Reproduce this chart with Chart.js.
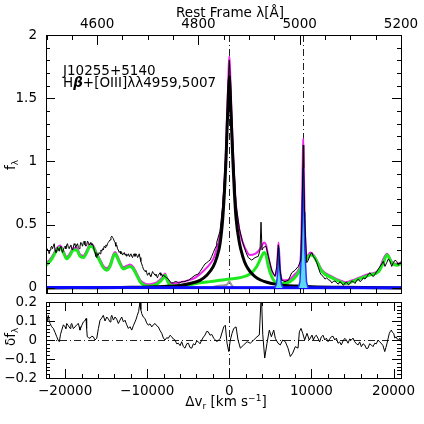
<!DOCTYPE html>
<html>
<head>
<meta charset="utf-8">
<script src="https://cdn.jsdelivr.net/npm/chart.js@4.4.1/dist/chart.umd.min.js"></script>
<style>
  html, body { margin: 0; padding: 0; background: #fff; }
  #wrap { position: relative; width: 424px; height: 424px; overflow: hidden; }
  canvas { position: absolute; left: 0; }
  #cTop { top: 0; }
  #cRes { top: 290px; }
</style>
</head>
<body>
<div id="wrap">
  <canvas id="cTop" width="424" height="300"></canvas>
  <canvas id="cRes" width="424" height="134"></canvas>
</div>
<script>
/* ── DATA (velocity in km/s, flux in relative units) ── */
// observed spectrum (thin black)
var obsV = [-22330,-22190,-22040,-21940,-21840,-21740,-21640,-21540,-21440,-21330,
  -21230,-21120,-21020,-20930,-20830,-20720,-20620,-20520,-20420,-20320,
  -20220,-20110,-20010,-19910,-19810,-19710,-19610,-19500,-19400,-19300,
  -19200,-19100,-19000,-18900,-18800,-18690,-18590,-18490,-18390,-18290,
  -18190,-18090,-17990,-17880,-17780,-17680,-17580,-17470,-17370,-17270,
  -17170,-17070,-16970,-16870,-16770,-16670,-16570,-16460,-16360,-16250,
  -16150,-16050,-15960,-15850,-15750,-15640,-15540,-15440,-15350,-15240,
  -15140,-15030,-14930,-14840,-14740,-14630,-14530,-14420,-14320,-14230,
  -14130,-14020,-13920,-13820,-13720,-13620,-13520,-13410,-13310,-13210,
  -13110,-13010,-12910,-12800,-12700,-12600,-12500,-12400,-12300,-12200,
  -12100,-11990,-11890,-11790,-11690,-11590,-11490,-11380,-11280,-11170,
  -11070,-10980,-10880,-10780,-10670,-10570,-10470,-10370,-10270,-10160,
  -10060,-9970,-9870,-9760,-9660,-9560,-9450,-9350,-9260,-9150,
  -9050,-8940,-8840,-8750,-8650,-8540,-8440,-8340,-8230,-8140,
  -8040,-7830,-7630,-7430,-7220,-7020,-6820,-6610,-6410,-6210,
  -6010,-5800,-5600,-5400,-5190,-4990,-4790,-4580,-4180,-3780,
  -3570,-3360,-3170,-2960,-2750,-2560,-2350,-2140,-1950,-1620,
  -1540,-1130,-800,-520,-400,-160,-70,0,120,210,
  450,820,1220,1630,2030,2310,2730,3130,3530,3740,
  3860,3980,4140,4470,4750,5160,5570,5770,5970,6180,
  6380,6780,7190,7600,8000,8400,8700,8820,8940,9010,
  9060,9180,9430,9620,9830,10040,10230,10440,10650,10850,
  11050,11250,11450,11650,11860,12060,12270,12470,12670,12870,
  13080,13280,13480,13690,13890,14090,14300,14500,14700,14900,
  15100,15310,15520,15720,15920,16120,16320,16530,16740,16940,
  17140,17340,17540,17750,17950,18150,18360,18560,18760,18960,
  19170,19370,19570,19780,19980,20190,20390,20590,20790,20910];
var obsF = [0.28,0.31,0.29,0.27,0.30,0.32,0.33,0.31,0.33,0.35,
  0.30,0.28,0.29,0.32,0.31,0.29,0.32,0.33,0.30,0.28,
  0.30,0.32,0.33,0.31,0.34,0.35,0.32,0.31,0.33,0.34,
  0.31,0.30,0.32,0.35,0.34,0.32,0.34,0.35,0.32,0.31,
  0.33,0.36,0.35,0.33,0.36,0.37,0.34,0.33,0.34,0.37,
  0.36,0.34,0.35,0.36,0.34,0.35,0.33,0.30,0.28,0.25,
  0.24,0.27,0.26,0.28,0.27,0.30,0.29,0.31,0.30,0.33,
  0.32,0.34,0.33,0.35,0.36,0.37,0.38,0.40,0.41,0.40,
  0.39,0.37,0.36,0.33,0.34,0.31,0.30,0.28,0.29,0.27,
  0.28,0.26,0.27,0.28,0.26,0.27,0.25,0.26,0.27,0.25,
  0.26,0.27,0.25,0.24,0.26,0.27,0.25,0.27,0.26,0.24,
  0.25,0.27,0.24,0.21,0.19,0.17,0.15,0.14,0.13,0.14,
  0.12,0.10,0.11,0.12,0.10,0.09,0.11,0.13,0.12,0.11,
  0.10,0.11,0.09,0.08,0.10,0.11,0.12,0.10,0.11,0.09,
  0.10,0.09,0.08,0.07,0.05,0.04,0.04,0.05,0.05,0.04,
  0.04,0.05,0.05,0.05,0.06,0.06,0.07,0.08,0.10,0.11,
  0.13,0.15,0.17,0.19,0.20,0.21,0.22,0.25,0.28,0.33,
  0.36,0.45,0.66,0.95,1.12,1.55,1.72,1.80,1.65,1.50,
  1.10,0.66,0.47,0.36,0.28,0.24,0.22,0.24,0.25,0.30,
  0.52,0.30,0.32,0.33,0.25,0.14,0.09,0.17,0.34,0.14,
  0.06,0.05,0.06,0.12,0.14,0.17,0.22,0.49,0.90,1.13,
  0.95,0.55,0.20,0.22,0.26,0.28,0.25,0.23,0.20,0.16,
  0.12,0.10,0.09,0.07,0.08,0.065,0.06,0.04,0.05,0.055,
  0.04,0.03,0.05,0.035,0.02,0.04,0.045,0.025,0.035,0.055,
  0.05,0.035,0.06,0.07,0.05,0.06,0.08,0.07,0.09,0.11,
  0.12,0.10,0.09,0.11,0.13,0.15,0.17,0.19,0.21,0.17,
  0.20,0.23,0.21,0.17,0.20,0.22,0.21,0.18,0.20,0.21];

// total model (magenta)
var modV = [-22330,-21840,-21440,-21020,-20620,-20220,-19810,-19400,-19000,-18590,
  -18190,-17780,-17370,-16970,-16570,-16150,-15750,-15350,-14930,-14530,
  -14130,-13920,-13720,-13310,-12910,-12500,-12100,-11690,-11280,-10880,
  -10470,-10060,-9660,-9260,-8840,-8440,-8040,-7830,-7630,-7220,
  -6820,-6010,-4990,-4180,-3570,-2750,-1950,-1540,-1130,-800,
  -520,-400,-280,-160,-70,0,70,160,280,450,
  620,820,1220,1630,2030,2520,3130,3530,3940,4230,
  4470,4750,5160,5560,5810,5990,6180,6380,6780,7390,
  8000,8400,8700,8820,8940,9000,9060,9180,9300,9430,
  9870,10280,10650,11290,12510,13480,14130,15350,16980,18200,
  18760,19210,19780,20390,20910];
var modF = [0.195,0.225,0.265,0.315,0.335,0.295,0.245,0.275,0.315,0.315,
  0.265,0.255,0.295,0.345,0.335,0.275,0.225,0.175,0.155,0.185,
  0.265,0.285,0.265,0.205,0.165,0.175,0.185,0.165,0.115,0.065,
  0.04,0.03,0.03,0.035,0.045,0.065,0.095,0.115,0.085,0.04,
  0.035,0.045,0.06,0.08,0.11,0.16,0.23,0.31,0.42,0.62,
  0.93,1.10,1.35,1.58,1.76,1.83,1.76,1.58,1.36,1.08,
  0.85,0.65,0.46,0.36,0.30,0.26,0.27,0.29,0.33,0.36,
  0.34,0.25,0.14,0.10,0.15,0.36,0.15,0.07,0.06,0.07,
  0.11,0.14,0.25,0.55,1.00,1.18,1.00,0.55,0.30,0.25,
  0.28,0.26,0.22,0.14,0.09,0.06,0.045,0.07,0.11,0.14,
  0.23,0.27,0.21,0.19,0.20];

// FeII template (green)
var feV = [-22330,-21840,-21440,-21020,-20620,-20220,-19810,-19400,-19000,-18590,
  -18190,-17780,-17370,-16970,-16570,-16150,-15750,-15350,-14930,-14530,
  -14130,-13920,-13720,-13310,-12910,-12500,-12100,-11690,-11280,-10880,
  -10470,-10060,-9660,-9260,-8840,-8440,-8040,-7830,-7630,-7220,
  -6820,-6010,-4990,-3570,-2350,-1130,0,1220,2520,3340,
  3940,4230,4470,4750,5160,5770,6580,7390,8210,8820,
  9430,9870,10280,10650,11290,12510,13480,14130,15350,16980,
  18200,18760,19210,19780,20390,20910];
var feF = [0.18,0.21,0.25,0.30,0.32,0.28,0.23,0.26,0.30,0.30,
  0.25,0.24,0.28,0.33,0.32,0.26,0.21,0.16,0.14,0.17,
  0.25,0.27,0.25,0.19,0.15,0.16,0.17,0.15,0.10,0.05,
  0.025,0.015,0.015,0.02,0.03,0.05,0.08,0.10,0.07,0.02,
  0.015,0.02,0.025,0.04,0.05,0.06,0.07,0.08,0.11,0.17,
  0.25,0.28,0.26,0.17,0.09,0.04,0.035,0.05,0.10,0.17,
  0.23,0.26,0.25,0.21,0.13,0.08,0.05,0.035,0.06,0.10,
  0.13,0.20,0.26,0.20,0.18,0.19];

// broad Hbeta (thick black)
var brV = [-22330,-12000,-8000,-6000,-4790,-3570,-2750,-1950,-1540,-1130,
  -800,-520,-400,-280,-160,-70,0,70,160,280,
  450,620,820,1220,1630,2030,2520,3130,3740,4560,
  5570,6780,8000,10000,14000,20910];
var brF = [0.0,0.005,0.012,0.02,0.035,0.06,0.10,0.17,0.24,0.35,
  0.55,0.85,1.02,1.25,1.45,1.60,1.67,1.60,1.45,1.25,
  0.98,0.75,0.55,0.36,0.25,0.18,0.13,0.09,0.065,0.045,
  0.03,0.02,0.015,0.01,0.005,0.0];

// narrow Hbeta (grey)
var nhbV = [-2300,-1500,-800,-300,0,300,600];
var nhbF = [0,0.015,0.02,0.025,0.05,0.02,0];

// [OIII] 4959 / 5007 (cyan)
var o3aV = [5540,5740,5890,5970,6040,6110,6190,6340,6540];
var o3aF = [0,0.03,0.12,0.22,0.32,0.22,0.12,0.03,0];
var o3bV = [8400,8600,8800,8900,9000,9100,9200,9400,9600];
var o3bF = [0,0.05,0.30,0.60,0.95,0.60,0.30,0.05,0];

// continuum (blue)
var contV = [-22330,20910];
var contF = [0.003,0.002];

// residuals
var resV = [-22330,-22190,-22050,-21940,-21840,-21640,-21440,-21230,-21020,-20860,
  -20710,-20560,-20410,-20210,-20010,-19910,-19810,-19600,-19400,-19300,
  -19200,-19000,-18790,-18590,-18390,-18290,-18190,-17990,-17780,-17620,
  -17450,-17380,-17300,-17130,-16970,-16770,-16570,-16360,-16150,-15950,
  -15750,-15550,-15350,-15140,-14930,-14730,-14530,-14420,-14320,-14120,
  -13920,-13720,-13520,-13310,-13110,-12900,-12700,-12500,-12300,-12100,
  -11890,-11690,-11490,-11350,-11210,-11050,-10880,-10780,-10670,-10470,
  -10270,-10070,-9870,-9660,-9450,-9250,-9050,-8850,-8650,-8440,
  -8230,-8030,-7830,-7630,-7430,-7220,-7020,-6810,-6610,-6410,
  -6210,-6000,-5800,-5600,-5400,-5190,-4990,-4790,-4580,-4380,
  -4180,-3980,-3780,-3570,-3360,-3160,-2960,-2760,-2560,-2350,
  -2140,-1900,-1500,-1100,-680,-490,-280,-70,120,330,
  540,820,1060,1340,1750,2160,2560,2970,3370,3650,
  3900,4070,4310,4590,4870,5120,5410,5600,5930,6210,
  6500,6820,7150,7430,7720,8040,8370,8530,8730,8940,
  9180,9460,9740,10070,10240,10400,10600,10800,11000,11210,
  11420,11620,11820,12020,12220,12420,12630,12840,13040,13240,
  13440,13640,13850,14060,14260,14460,14660,14860,15060,15270,
  15480,15680,15880,16080,16290,16490,16690,16890,17090,17300,
  17500,17710,17910,18110,18310,18510,18720,18930,19070,19210,
  19350,19490,19610,19730,19870,20020,20160,20300,20460,20630,
  20770,20910];
var resF = [0.12,0.10,0.13,0.10,0.087,0.07,0.061,0.04,0.017,0.0,
  -0.009,0.03,0.052,0.08,0.069,0.06,0.087,0.075,0.061,0.08,
  0.087,0.06,0.069,0.08,0.087,0.07,0.052,0.075,0.095,0.10,
  0.113,0.06,0.017,0.012,0.009,0.02,0.017,0.0,0.009,0.06,
  0.104,0.115,0.13,0.10,0.121,0.11,0.095,0.12,0.13,0.105,
  0.121,0.11,0.087,0.105,0.121,0.095,0.104,0.08,0.061,0.07,
  0.052,0.075,0.095,0.11,0.13,0.15,0.20,0.16,0.139,0.12,
  0.113,0.09,0.078,0.085,0.069,0.08,0.087,0.075,0.069,0.05,
  0.035,0.01,0.0,0.012,0.009,0.025,0.017,0.005,0.0,-0.02,
  -0.017,-0.03,-0.009,-0.035,-0.043,-0.02,-0.017,-0.04,-0.043,-0.02,
  -0.026,-0.005,-0.009,-0.02,0.0,0.015,0.026,0.045,0.043,0.025,
  0.03,0.009,-0.009,0.009,0.069,0.078,-0.017,-0.061,0.0,0.035,
  0.061,0.069,0.0,-0.043,-0.026,-0.009,-0.017,0.0,0.017,0.026,
  0.25,0.03,-0.095,-0.017,0.052,0.017,0.052,0.009,-0.017,-0.026,
  0.0,-0.009,-0.043,-0.087,-0.069,-0.035,-0.043,0.043,0.061,0.035,
  0.0,0.035,0.0,0.026,0.0,0.017,0.025,0.009,-0.01,0.017,
  0.025,0.0,0.01,-0.009,0.005,0.017,0.02,0.0,0.01,-0.017,
  -0.01,-0.026,-0.005,0.009,0.0,-0.017,0.005,0.0,0.01,-0.009,
  -0.02,-0.026,-0.01,-0.035,-0.02,-0.026,-0.045,-0.043,-0.02,-0.026,
  -0.035,-0.017,-0.02,0.0,-0.01,-0.017,-0.03,-0.061,-0.04,-0.017,
  0.01,0.035,0.045,0.052,0.04,0.035,0.01,0.017,0.005,0.0,
  0.01,-0.009];

// line markers (Hbeta, [OIII]5007)
var markV = [0, 9004];

// ticks
var velTicks = [-20000, -10000, 0, 10000, 20000];
var lamTicks = [4600, 4800, 5000, 5200];
var fTicks = [0, 0.5, 1, 1.5, 2];
var resTicks = [-0.2, -0.1, 0, 0.1, 0.2];

/* ── AXIS LIMITS ── */
var C_KMS = 299792.458, LAM0 = 4861;
var vMin = -22330, vMax = 20910;
var lamMin = LAM0 * (1 + vMin / C_KMS), lamMax = LAM0 * (1 + vMax / C_KMS);
var FONT = '"DejaVu Sans", sans-serif';
var FS = 13.5;

function steps(lo, hi, st) {
  var a = [];
  for (var v = Math.ceil(lo / st - 1e-9) * st; v <= hi + 1e-9; v += st) a.push(+v.toFixed(6));
  return a;
}
function pts(xs, ys) { return xs.map(function (x, i) { return { x: x, y: ys[i] }; }); }
function fmt(v) { return (v < 0 ? '\u2212' : '') + String(Math.abs(v)); }

function tickLine(ctx, scale, vals, edge, len, a) {
  vals.forEach(function (v) {
    var p = scale.getPixelForValue(v);
    if (edge === 'top' || edge === 'bottom') {
      if (p < a.left - 0.5 || p > a.right + 0.5) return;
      p = Math.round(p) + 0.5;
      if (edge === 'top') { ctx.moveTo(p, a.top); ctx.lineTo(p, a.top + len); }
      else { ctx.moveTo(p, a.bottom); ctx.lineTo(p, a.bottom - len); }
    } else {
      if (p < a.top - 0.5 || p > a.bottom + 0.5) return;
      p = Math.round(p) + 0.5;
      if (edge === 'left') { ctx.moveTo(a.left, p); ctx.lineTo(a.left + len, p); }
      else { ctx.moveTo(a.right, p); ctx.lineTo(a.right - len, p); }
    }
  });
}

function frame(ctx, a) {
  ctx.strokeRect(Math.round(a.left) + 0.5, Math.round(a.top) + 0.5,
    Math.round(a.right - a.left), Math.round(a.bottom - a.top));
}

function dashV(ctx, chart, v) {
  var a = chart.chartArea, p = Math.round(chart.scales.x.getPixelForValue(v)) + 0.5;
  ctx.beginPath(); ctx.moveTo(p, a.top); ctx.lineTo(p, a.bottom); ctx.stroke();
}

// text with sub/superscript parts: [text, shiftY, size, style]
function richText(ctx, parts, x, y, align) {
  var w = 0;
  parts.forEach(function (p) { ctx.font = (p[3] || '') + p[2] + 'px ' + FONT; w += ctx.measureText(p[0]).width; });
  var cx = align === 'center' ? x - w / 2 : x;
  ctx.textAlign = 'left';
  ctx.textBaseline = 'alphabetic';
  parts.forEach(function (p) {
    ctx.font = (p[3] || '') + p[2] + 'px ' + FONT;
    ctx.fillText(p[0], cx, y + p[1]);
    cx += ctx.measureText(p[0]).width;
  });
}

function baseTicks(vals) { return function (s) { s.ticks = vals.map(function (v) { return { value: v }; }); }; }
function fixW(w) { return function (s) { s.width = w; s.paddingTop = 0; s.paddingBottom = 0; }; }
function fixH(h) { return function (s) { s.height = h; s.paddingLeft = 0; s.paddingRight = 0; }; }

/* ── TOP PANEL ── */
var topPlugin = {
  id: 'topDeco',
  beforeDatasetsDraw: function (chart) {
    var ctx = chart.ctx;
    ctx.save();
    ctx.strokeStyle = '#222'; ctx.lineWidth = 1; ctx.setLineDash([7, 3, 1, 3]);
    markV.forEach(function (v) { dashV(ctx, chart, v); });
    ctx.restore();
  },
  afterDraw: function (chart) {
    var ctx = chart.ctx, a = chart.chartArea, xt = chart.scales.xt, y = chart.scales.y;
    ctx.save();
    ctx.strokeStyle = '#000'; ctx.lineWidth = 1;
    frame(ctx, a);
    ctx.beginPath();
    tickLine(ctx, xt, steps(lamMin, lamMax, 50), 'top', 5, a);
    tickLine(ctx, xt, lamTicks, 'top', 10, a);
    tickLine(ctx, xt, steps(lamMin, lamMax, 50), 'bottom', 5, a);
    tickLine(ctx, y, steps(0, 2, 0.1), 'left', 4, a);
    tickLine(ctx, y, fTicks, 'left', 9, a);
    tickLine(ctx, y, steps(0, 2, 0.1), 'right', 4, a);
    tickLine(ctx, y, fTicks, 'right', 9, a);
    ctx.stroke();

    ctx.fillStyle = '#000';
    richText(ctx, [['Rest Frame \u03bb[\u00c5]', 0, FS]], 230, 17, 'center');
    richText(ctx, [['J10255+5140', 0, FS]], 63, 75, 'left');
    richText(ctx, [['H', 0, FS], ['\u03b2', 0, FS, 'italic bold '], ['+[OIII]\u03bb\u03bb4959,5007', 0, FS]], 63, 87, 'left');

    ctx.translate(15, 170);
    ctx.rotate(-Math.PI / 2);
    richText(ctx, [['f', 0, FS], ['\u03bb', 3, 9]], 0, 0, 'left');
    ctx.restore();
  }
};

new Chart(document.getElementById('cTop'), {
  type: 'line',
  data: {
    datasets: [
      { data: pts(obsV, obsF), borderColor: '#000', borderWidth: 1, order: 0 },
      { data: pts(o3aV, o3aF), borderColor: '#1e3cff', backgroundColor: '#5fd8f2', borderWidth: 1.5, fill: 'origin', order: 1 },
      { data: pts(o3bV, o3bF), borderColor: '#1e3cff', backgroundColor: '#5fd8f2', borderWidth: 1.5, fill: 'origin', order: 1 },
      { data: pts(contV, contF), borderColor: '#0a0aff', borderWidth: 3, order: 2 },
      { data: pts(brV, brF), borderColor: '#000', borderWidth: 3, cubicInterpolationMode: 'monotone', order: 3 },
      { data: pts(nhbV, nhbF), borderColor: '#999', borderWidth: 2, cubicInterpolationMode: 'monotone', order: 3 },
      { data: pts(feV, feF), borderColor: '#1ee81e', borderWidth: 3, cubicInterpolationMode: 'monotone', order: 4 },
      { data: pts(modV, modF), borderColor: '#ee22ee', borderWidth: 2, cubicInterpolationMode: 'monotone', order: 5 }
    ]
  },
  options: {
    responsive: false, animation: false, devicePixelRatio: 1,
    layout: { padding: { left: 0, right: 23, top: 0, bottom: 7 } },
    elements: { point: { radius: 0 }, line: { tension: 0 } },
    plugins: { legend: { display: false }, tooltip: { enabled: false } },
    scales: {
      x: { type: 'linear', min: vMin, max: vMax, display: false },
      xt: {
        type: 'linear', position: 'top', min: lamMin, max: lamMax,
        afterBuildTicks: baseTicks(lamTicks),
        afterFit: fixH(35),
        grid: { display: false, drawTicks: false }, border: { display: false },
        ticks: { color: '#000', font: { family: FONT, size: FS }, padding: 2, maxRotation: 0, autoSkip: false,
          callback: function (v) { return fmt(v); } }
      },
      y: {
        type: 'linear', min: -0.04, max: 2,
        afterBuildTicks: baseTicks(fTicks),
        afterFit: fixW(46),
        grid: { display: false, drawTicks: false }, border: { display: false },
        ticks: { color: '#000', font: { family: FONT, size: FS }, padding: 9, autoSkip: false,
          callback: function (v) { return fmt(v); } }
      }
    }
  },
  plugins: [topPlugin]
});

/* ── RESIDUAL PANEL ── */
var resPlugin = {
  id: 'resDeco',
  beforeDatasetsDraw: function (chart) {
    var ctx = chart.ctx, a = chart.chartArea, p = Math.round(chart.scales.y.getPixelForValue(0)) + 0.5;
    ctx.save();
    ctx.strokeStyle = '#222'; ctx.lineWidth = 1; ctx.setLineDash([7, 3, 1, 3]);
    dashV(ctx, chart, markV[0]);
    ctx.beginPath(); ctx.moveTo(a.left, p); ctx.lineTo(a.right, p); ctx.stroke();
    ctx.restore();
  },
  afterDraw: function (chart) {
    var ctx = chart.ctx, a = chart.chartArea, x = chart.scales.x, y = chart.scales.y;
    ctx.save();
    ctx.strokeStyle = '#000'; ctx.lineWidth = 1;
    frame(ctx, a);
    ctx.beginPath();
    tickLine(ctx, x, steps(vMin, vMax, 2000), 'bottom', 4, a);
    tickLine(ctx, x, velTicks, 'bottom', 9, a);
    tickLine(ctx, x, steps(vMin, vMax, 2000), 'top', 4, a);
    tickLine(ctx, x, velTicks, 'top', 9, a);
    tickLine(ctx, y, steps(-0.2, 0.2, 0.02), 'left', 4, a);
    tickLine(ctx, y, resTicks, 'left', 9, a);
    tickLine(ctx, y, steps(-0.2, 0.2, 0.02), 'right', 4, a);
    tickLine(ctx, y, resTicks, 'right', 9, a);
    ctx.stroke();

    ctx.fillStyle = '#000';
    richText(ctx, [['\u0394v', 0, FS], ['r', 3, 9], [' [km s', 0, FS], ['\u22121', -5, 9], [']', 0, FS]], 226, 116, 'center');

    ctx.translate(15, 56);
    ctx.rotate(-Math.PI / 2);
    richText(ctx, [['\u03b4f', 0, FS], ['\u03bb', 3, 9]], 0, 0, 'left');
    ctx.restore();
  }
};

new Chart(document.getElementById('cRes'), {
  type: 'line',
  data: {
    datasets: [
      { data: pts(resV, resF), borderColor: '#000', borderWidth: 1 }
    ]
  },
  options: {
    responsive: false, animation: false, devicePixelRatio: 1,
    layout: { padding: { left: 0, right: 23, top: 12, bottom: 0 } },
    elements: { point: { radius: 0 }, line: { tension: 0 } },
    plugins: { legend: { display: false }, tooltip: { enabled: false } },
    scales: {
      x: {
        type: 'linear', min: vMin, max: vMax,
        afterBuildTicks: baseTicks(velTicks),
        afterFit: fixH(46),
        grid: { display: false, drawTicks: false }, border: { display: false },
        ticks: { color: '#000', font: { family: FONT, size: FS }, padding: 5, maxRotation: 0, autoSkip: false,
          callback: function (v) { return fmt(v); } }
      },
      y: {
        type: 'linear', min: -0.2, max: 0.2,
        afterBuildTicks: baseTicks(resTicks),
        afterFit: fixW(46),
        grid: { display: false, drawTicks: false }, border: { display: false },
        ticks: { color: '#000', font: { family: FONT, size: FS }, padding: 9, autoSkip: false,
          callback: function (v) { return fmt(v); } }
      }
    }
  },
  plugins: [resPlugin]
});
</script>
</body>
</html>
